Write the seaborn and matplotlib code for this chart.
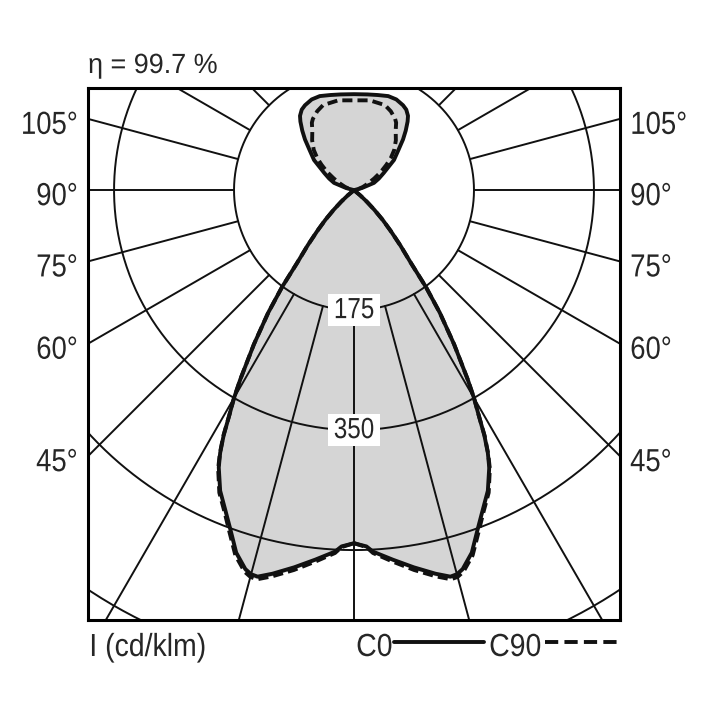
import numpy as np
import matplotlib
matplotlib.use("Agg")
import matplotlib.pyplot as plt
from matplotlib.lines import Line2D
from matplotlib.patheffects import AbstractPathEffect
from matplotlib.transforms import Affine2D
import seaborn as sns

# ===== 1. DATA (luminous intensity in cd/klm vs gamma angle in degrees) =====

GAMMA_C0 = [0, 2, 3, 6, 9, 12, 14, 15, 16, 18, 20, 22, 24, 26, 27, 28, 29, 30,
            31, 33, 35, 36.6, 38, 40, 42, 44, 46, 48, 50, 53, 70, 90, 100,
            105, 110, 115, 120, 127, 132, 136, 139, 142, 144, 147, 150, 155,
            160, 166, 172, 180]
I_C0 = [515, 520, 528, 542, 557, 572, 581, 580, 575, 556, 527, 502, 480, 450,
        430, 405, 375, 350, 322, 268, 218, 176, 135, 105, 80, 60, 41, 25, 12,
        0, 0, 0, 0, 12, 31, 40, 50, 73, 87, 103, 115, 127, 134, 140, 143, 146,
        146, 143, 141, 140]

GAMMA_C90 = [0, 2, 3, 6, 9, 12, 14, 15, 16, 18, 20, 22, 24, 26, 27, 28, 29, 30,
             31, 33, 35, 36.6, 38, 40, 42, 44, 46, 48, 50, 53, 70, 90, 100,
             105, 110, 115, 120, 124, 128, 131, 135, 140, 145, 148, 150, 155,
             160, 170, 180]
I_C90 = [515, 521, 530, 545, 561, 576, 585, 584, 579, 560, 531, 505, 483, 452,
         431, 406, 375, 350, 322, 268, 218, 176, 135, 105, 80, 60, 41, 25, 12,
         0, 0, 0, 0, 7, 14, 22, 34, 47, 60, 71, 83, 95, 106, 116, 120, 127,
         132, 133, 131]

RINGS = [175, 350, 525, 700]
RING_LABELS = ['175', '350']
SPOKES = list(range(0, 360, 15))
ANGLE_LABELS = [105, 90, 75, 60, 45]
ETA_TEXT = 'η = 99.7 %'
UNIT_TEXT = 'I (cd/klm)'
SERIES = ['C0', 'C90']

# view window in cd/klm (pole at origin, nadir pointing down)
XLIM = (-388, 388)
YLIM = (-627, 149)


def outline(gamma, inten):
    g = np.radians(gamma)
    r = np.asarray(inten, dtype=float)
    xr = r * np.sin(g)
    yr = -r * np.cos(g)
    return np.concatenate([xr, -xr[::-1]]), np.concatenate([yr, yr[::-1]])


class Narrow(AbstractPathEffect):
    """Squeeze glyphs horizontally to mimic a condensed typeface."""

    def __init__(self, sx=0.86, anchor='left'):
        super().__init__()
        self.sx = sx
        self.anchor = anchor

    def draw_path(self, renderer, gc, tpath, affine, rgbFace=None):
        bb = tpath.get_extents(affine)
        ax_ = {'left': bb.x0, 'right': bb.x1}.get(self.anchor, 0.5 * (bb.x0 + bb.x1))
        tr = affine + Affine2D().translate(-ax_, 0).scale(self.sx, 1).translate(ax_, 0)
        renderer.draw_path(gc, tpath, tr, rgbFace)


# ===== 2. STYLE ============================================================

sns.set_theme(style='white')
plt.rcParams['font.family'] = ['Liberation Sans', 'DejaVu Sans']

fig = plt.figure(figsize=(7.08, 7.08), dpi=100)
ax = fig.add_axes([88 / 708, 88 / 708, 532 / 708, 532 / 708])
ax.set_xlim(*XLIM)
ax.set_ylim(*YLIM)
ax.set_aspect('equal')
ax.set_xticks([])
ax.set_yticks([])
for sp in ax.spines.values():
    sp.set_linewidth(2.2)
    sp.set_color('black')
    sp.set_zorder(6)

# ===== 3. FILL + GRID ======================================================

x0, y0 = outline(GAMMA_C0, I_C0)
x9, y9 = outline(GAMMA_C90, I_C90)
ax.fill(x0, y0, color='#d5d5d5', lw=0, zorder=1)
ax.fill(x9, y9, color='#d5d5d5', lw=0, zorder=1)

t = np.linspace(0, 2 * np.pi, 720)
for R in RINGS:
    ax.plot(R * np.sin(t), R * np.cos(t), color='#111111', lw=1.4, zorder=2)

r_in, r_out = RINGS[0], 1200
for s in SPOKES:
    a = np.radians(s)
    ax.plot([r_in * np.sin(a), r_out * np.sin(a)],
            [-r_in * np.cos(a), -r_out * np.cos(a)],
            color='#111111', lw=1.4, zorder=2)

for R, lab in zip(RINGS, RING_LABELS):
    ax.text(0, -R, lab, ha='center', va='center', fontsize=21, zorder=3,
            path_effects=[Narrow(0.83, 'center')],
            bbox=dict(facecolor='white', edgecolor='none', pad=1.5))

# ===== 4. CURVES ===========================================================

sns.lineplot(x=x0, y=y0, sort=False, estimator=None, color='#111111',
             lw=2.8, ax=ax, zorder=4)
sns.lineplot(x=x9, y=y9, sort=False, estimator=None, color='#111111',
             lw=2.8, ax=ax, zorder=5, linestyle=(0, (2.6, 1.3)))

# ===== 5. ANGLE LABELS =====================================================

for g in ANGLE_LABELS:
    a = np.radians(g)
    y_edge = -XLIM[1] * np.cos(a) / np.sin(a)
    ax.annotate(f'{g}°', xy=(XLIM[0], y_edge), xytext=(-10, -7),
                textcoords='offset pixels', ha='right', va='center',
                fontsize=23, annotation_clip=False,
                path_effects=[Narrow(0.86, 'right')])
    ax.annotate(f'{g}°', xy=(XLIM[1], y_edge), xytext=(10, -7),
                textcoords='offset pixels', ha='left', va='center',
                fontsize=23, annotation_clip=False,
                path_effects=[Narrow(0.86, 'left')])

# ===== 6. HEADER / FOOTER ==================================================

fig.text(88 / 708, 1 - 73 / 708, ETA_TEXT, fontsize=20, va='baseline', ha='left',
         path_effects=[Narrow(0.97, 'left')])
foot = dict(fontsize=23, va='baseline', ha='left', path_effects=[Narrow(0.89, 'left')])
fig.text(89 / 708, 1 - 656 / 708, UNIT_TEXT, **foot)
fig.text(356 / 708, 1 - 656 / 708, SERIES[0], **foot)
fig.text(489 / 708, 1 - 656 / 708, SERIES[1], **foot)
ly = 1 - 642 / 708
fig.add_artist(Line2D([394 / 708, 484 / 708], [ly, ly], color='#111111', lw=2.8))
fig.add_artist(Line2D([545 / 708, 619 / 708], [ly, ly], color='#111111', lw=2.8,
                      linestyle=(0, (3.4, 1.6))))

if ax.get_legend() is not None:
    ax.get_legend().remove()

fig.savefig('out.png', dpi=100, facecolor='white')
